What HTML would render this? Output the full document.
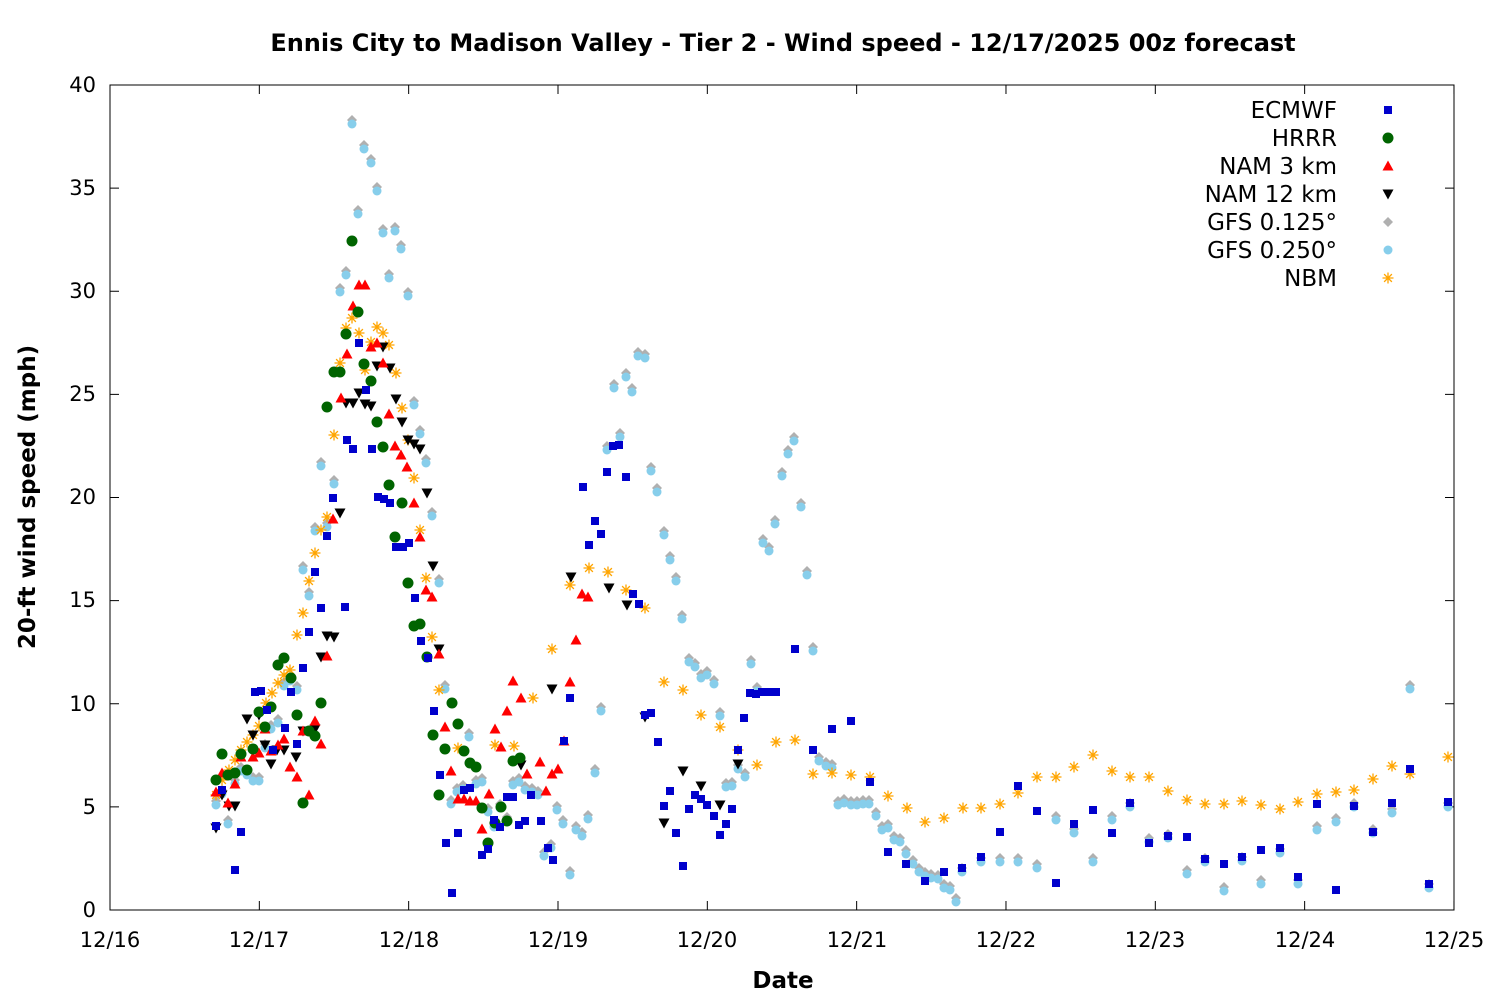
<!DOCTYPE html>
<html><head><meta charset="utf-8">
<style>
html,body{margin:0;padding:0;background:#fff;}
svg{display:block;font-family:"Liberation Sans","DejaVu Sans",sans-serif;}
</style></head>
<body>
<svg id="c" width="1500" height="1000" xmlns="http://www.w3.org/2000/svg">
<rect width="1500" height="1000" fill="#fff"/>
<text x="783" y="51" text-anchor="middle" font-size="24" font-weight="bold" font-family="DejaVu Sans, sans-serif">Ennis City to Madison Valley - Tier 2 - Wind speed - 12/17/2025 00z forecast</text>
<rect x="110" y="85" width="1344" height="825" fill="none" stroke="#000" stroke-width="1"/>
<g id="ticks" stroke="#000" stroke-width="1"></g>
<g id="labels" font-size="21" font-family="DejaVu Sans, sans-serif">
<text x="96" y="917" text-anchor="end">0</text>
<text x="96" y="814" text-anchor="end">5</text>
<text x="96" y="711" text-anchor="end">10</text>
<text x="96" y="607" text-anchor="end">15</text>
<text x="96" y="504" text-anchor="end">20</text>
<text x="96" y="401" text-anchor="end">25</text>
<text x="96" y="298" text-anchor="end">30</text>
<text x="96" y="195" text-anchor="end">35</text>
<text x="96" y="92" text-anchor="end">40</text>
<text x="110" y="947" text-anchor="middle">12/16</text>
<text x="259" y="947" text-anchor="middle">12/17</text>
<text x="409" y="947" text-anchor="middle">12/18</text>
<text x="558" y="947" text-anchor="middle">12/19</text>
<text x="707" y="947" text-anchor="middle">12/20</text>
<text x="857" y="947" text-anchor="middle">12/21</text>
<text x="1006" y="947" text-anchor="middle">12/22</text>
<text x="1155" y="947" text-anchor="middle">12/23</text>
<text x="1305" y="947" text-anchor="middle">12/24</text>
<text x="1454" y="947" text-anchor="middle">12/25</text>
<text x="783" y="988" text-anchor="middle" font-weight="bold" font-size="23">Date</text>
<text transform="translate(35,497) rotate(-90)" text-anchor="middle" font-weight="bold" font-size="23">20-ft wind speed (mph)</text>
<text x="1337" y="118" text-anchor="end" font-size="23">ECMWF</text>
<text x="1337" y="146" text-anchor="end" font-size="23">HRRR</text>
<text x="1337" y="174" text-anchor="end" font-size="23">NAM 3 km</text>
<text x="1337" y="202" text-anchor="end" font-size="23">NAM 12 km</text>
<text x="1337" y="230" text-anchor="end" font-size="23">GFS 0.125°</text>
<text x="1337" y="258" text-anchor="end" font-size="23">GFS 0.250°</text>
<text x="1337" y="286" text-anchor="end" font-size="23">NBM</text>
</g>
<g id="pts"></g>
</svg>
<script>
var NS="http://www.w3.org/2000/svg";
var T=document.getElementById('ticks'),P=document.getElementById('pts');
function el(p,n,a){var e=document.createElementNS(NS,n);for(var k in a)e.setAttribute(k,a[k]);p.appendChild(e);return e;}
for(var i=0;i<=8;i++){var y=910-i*103.125;el(T,'line',{x1:110,y1:y,x2:119,y2:y});el(T,'line',{x1:1454,y1:y,x2:1445,y2:y});}
for(var i=0;i<=9;i++){var x=110+i*149.33;el(T,'line',{x1:x,y1:910,x2:x,y2:901});el(T,'line',{x1:x,y1:85,x2:x,y2:94});}
function sq(x,y){el(P,'rect',{x:x-4,y:y-4,width:8,height:8,fill:'#0000cc'});}
function ci(x,y){el(P,'circle',{cx:x,cy:y,r:5.5,fill:'#006400'});}
function tu(x,y){el(P,'polygon',{points:(x-5.5)+','+(y+4.5)+' '+(x+5.5)+','+(y+4.5)+' '+x+','+(y-5.5),fill:'#ff0000'});}
function td(x,y){el(P,'polygon',{points:(x-5.5)+','+(y-4.5)+' '+(x+5.5)+','+(y-4.5)+' '+x+','+(y+5.5),fill:'#000'});}
function di(x,y){el(P,'polygon',{points:(x)+','+(y-5)+' '+(x+5)+','+y+' '+x+','+(y+5)+' '+(x-5)+','+y,fill:'#b0b0b0'});}
function pe(x,y){el(P,'circle',{cx:x,cy:y,r:4.5,fill:'#87ceeb'});}
function st(x,y){var g='';for(var a=0;a<4;a++){var t=a*Math.PI/4,dx=5.5*Math.cos(t),dy=5.5*Math.sin(t);g+='M'+(x-dx)+' '+(y-dy)+'L'+(x+dx)+' '+(y+dy);}el(P,'path',{d:g,stroke:'#ffa500','stroke-width':1.3,fill:'none'});}
function pl(a,f,dy){dy=dy||0;for(var i=0;i<a.length;i+=2)f(a[i],a[i+1]+dy);}
var EC=[216,826,222,790,235,870,241,832,255,692,261,691,267,710,273,750,285,728,291,692,297,744,303,668,309,632,315,572,321,608,327,536,333,498,345,607,347,440,353,449,359,343,366,390,372,449,378,497,384,499,390,503,396,547,403,547,409,543,415,598,421,641,428,658,434,711,440,775,446,843,452,893,458,833,464,790,470,788,482,855,488,849,494,820,500,827,507,797,513,797,519,825,525,821,531,795,541,821,548,848,553,860,564,741,570,698,583,487,589,545,595,521,601,534,607,472,613,446,619,445,626,477,633,594,639,604,645,715,651,713,658,742,664,806,670,791,676,833,683,866,689,809,695,795,701,799,707,805,714,816,720,835,726,824,732,809,738,750,744,718,750,693,756,694,762,692,768,692,776,692,795,649,813,750,832,729,851,721,870,782,888,852,906,864,925,881,944,872,962,868,981,857,1000,832,1018,786,1037,811,1056,883,1074,824,1093,810,1112,833,1130,803,1149,843,1168,836,1187,837,1205,859,1224,864,1242,857,1261,850,1280,848,1298,877,1317,804,1336,890,1354,806,1373,832,1392,803,1410,769,1429,884,1448,802];
var HR=[216,780,222,754,228,775,235,773,241,754,247,770,253,749,259,712,265,727,271,707,278,665,284,658,291,678,297,715,303,803,309,731,315,736,321,703,327,407,334,372,340,372,346,334,352,241,358,312,364,364,371,381,377,422,383,447,389,485,395,537,402,503,408,583,414,626,420,624,427,657,433,735,439,795,445,749,452,703,458,724,464,751,470,763,476,767,482,808,488,843,495,823,501,807,507,821,513,761,520,758];
var N3=[216,792,222,773,228,803,235,784,241,757,253,757,259,753,265,729,271,751,278,745,284,739,290,767,297,777,303,731,309,795,315,721,321,744,327,656,333,519,341,398,347,354,353,306,359,285,365,285,371,347,377,343,383,363,389,414,395,446,401,455,407,467,414,503,420,537,426,590,432,597,439,654,445,727,451,771,458,799,464,799,470,801,476,801,482,829,489,794,495,729,501,747,507,711,513,681,521,698,527,774,540,762,546,791,552,774,558,769,564,741,570,682,576,640,582,594,588,597];
var N12=[216,828,222,795,229,806,235,806,247,719,253,735,259,715,265,745,271,764,277,750,284,750,296,757,303,731,309,731,315,729,321,657,327,636,334,637,340,513,346,403,353,403,359,393,365,404,371,406,377,366,383,347,390,368,396,399,402,422,408,440,414,444,420,449,427,493,433,566,439,649,521,765,552,689,571,577,609,588,627,605,645,717,664,823,683,771,701,786,720,805,738,764];
var G1=[216,801,222,790,228,820,235,780,241,767,247,771,253,777,259,777,265,744,271,725,278,719,284,682,290,677,297,686,303,566,309,592,315,527,321,462,327,523,334,480,340,288,346,271,352,120,358,210,364,145,371,159,377,187,383,229,389,274,395,227,401,245,408,292,414,401,420,430,426,459,432,512,439,579,445,685,451,800,457,788,463,785,469,733,476,780,482,778,488,808,494,823,500,804,507,817,513,781,519,778,525,786,532,788,538,791,544,852,551,844,557,806,563,820,570,871,576,826,582,832,588,815,595,769,601,707,607,446,614,384,620,433,626,373,632,388,638,352,645,354,651,467,657,488,664,531,670,556,676,577,682,615,689,658,695,663,701,674,707,671,714,680,720,712,726,783,732,782,738,765,745,773,751,660,757,687,763,539,769,547,775,520,782,472,788,450,794,437,801,503,807,571,813,647,819,757,826,762,832,764,838,801,844,799,851,801,857,801,863,800,869,800,876,812,882,826,888,824,894,836,900,838,906,850,913,860,919,868,925,872,931,874,938,875,944,884,950,886,956,898,962,868,981,858,1000,858,1018,858,1037,864,1056,816,1074,829,1093,858,1112,816,1130,803,1149,838,1168,834,1187,870,1205,858,1224,887,1242,857,1261,880,1280,849,1298,880,1317,826,1336,818,1354,803,1373,829,1392,809,1410,685,1429,884,1448,803];
var NB=[216,795,222,780,229,770,235,760,241,750,247,742,253,735,259,726,266,703,272,693,278,683,284,675,290,670,297,635,303,613,309,581,315,553,321,530,327,517,334,435,340,363,346,328,352,318,359,333,365,370,371,342,377,327,383,333,389,345,396,373,402,408,408,440,414,478,420,530,426,578,432,637,439,690,458,748,495,745,514,746,533,698,552,649,570,585,589,568,608,572,626,590,645,608,664,682,683,690,701,715,720,727,738,750,757,765,776,742,795,740,813,774,832,773,851,775,870,777,888,796,907,808,925,822,944,818,963,808,981,808,1000,804,1018,793,1037,777,1056,777,1074,767,1093,755,1112,771,1130,777,1149,777,1168,791,1187,800,1205,804,1224,804,1242,801,1261,805,1280,809,1298,802,1317,794,1336,792,1354,790,1373,779,1392,766,1410,774,1448,757];
pl(G1,di);pl(G1,pe,4);pl(NB,st);pl(N12,td);pl(N3,tu);pl(HR,ci);pl(EC,sq);
sq(1388,110);ci(1388,138);tu(1388,166);td(1388,194);di(1388,222);pe(1388,250);st(1388,278);
</script>
</body></html>
